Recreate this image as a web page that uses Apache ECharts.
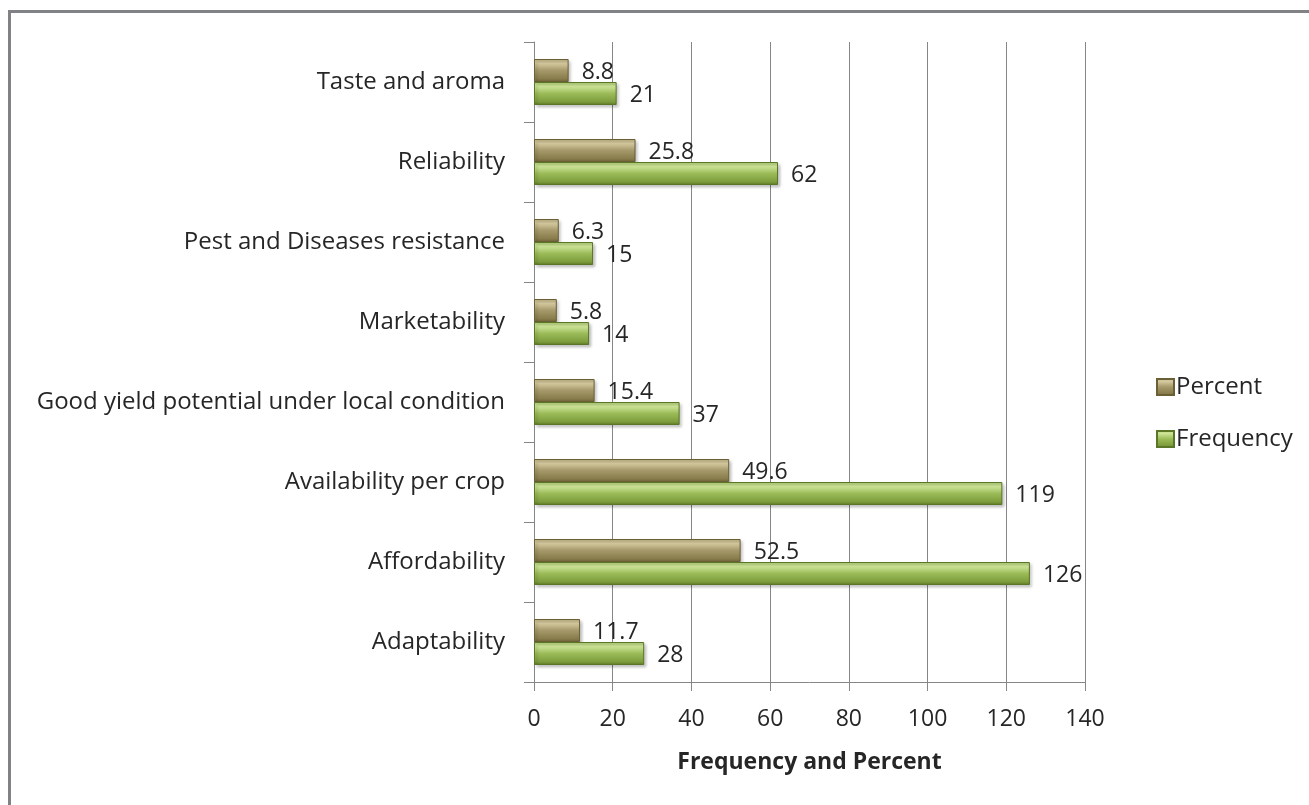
<!DOCTYPE html>
<html>
<head>
<meta charset="utf-8">
<script src="https://cdn.jsdelivr.net/npm/echarts@6/dist/echarts.min.js"></script>
<style>
  html, body { margin: 0; padding: 0; background: #ffffff; overflow: hidden; }
  #frame {
    position: absolute; left: 8px; top: 10px; width: 1400px; height: 900px;
    border-left: 3px solid #808285; border-top: 3px solid #808285;
  }
  #chart { position: absolute; left: 0; top: 0; width: 1309px; height: 805px; }
</style>
</head>
<body>
<div id="frame"></div>
<div id="chart"></div>
<script>
// Categories listed bottom to top (category axis grows upward)
const categories = [
  'Adaptability',
  'Affordability',
  'Availability per crop',
  'Good yield potential under local condition',
  'Marketability',
  'Pest and Diseases resistance',
  'Reliability',
  'Taste and aroma'
];
const percentValues = [11.7, 52.5, 49.6, 15.4, 5.8, 6.3, 25.8, 8.8];
const frequencyValues = [28, 126, 119, 37, 14, 15, 62, 21];
const xTicks = [0, 20, 40, 60, 80, 100, 120, 140];

const FONT = '"Open Sans", Lato, sans-serif';
const TEXT = '#262626';
const AXIS = '#868686';

function bevel(stops) {
  return new echarts.graphic.LinearGradient(0, 0, 0, 1, stops);
}

const percentStyle = {
  color: bevel([
    { offset: 0, color: '#b9ad7e' },
    { offset: 0.18, color: '#d6cba0' },
    { offset: 0.5, color: '#a5986a' },
    { offset: 0.85, color: '#8a7d4c' },
    { offset: 1, color: '#6e6238' }
  ]),
  borderColor: '#6b5f36',
  borderWidth: 1,
  shadowColor: 'rgba(0,0,0,0.25)',
  shadowBlur: 3,
  shadowOffsetX: 2,
  shadowOffsetY: 2
};
const frequencyStyle = {
  color: bevel([
    { offset: 0, color: '#a9c86c' },
    { offset: 0.18, color: '#cfe69a' },
    { offset: 0.5, color: '#9bbb59' },
    { offset: 0.85, color: '#7e9e3e' },
    { offset: 1, color: '#5e7a25' }
  ]),
  borderColor: '#5c7628',
  borderWidth: 1,
  shadowColor: 'rgba(0,0,0,0.25)',
  shadowBlur: 3,
  shadowOffsetX: 2,
  shadowOffsetY: 2
};

const labelStyle = {
  show: true,
  position: 'right',
  distance: 13,
  offset: [0, 2],
  color: TEXT,
  fontFamily: FONT,
  fontSize: 23
};

const chart = echarts.init(document.getElementById('chart'), null, { renderer: 'canvas' });
chart.setOption({
  animation: false,
  backgroundColor: 'transparent',
  grid: { left: 534, top: 42, right: 224, bottom: 123, containLabel: false },
  legend: {
    data: ['Percent', 'Frequency'],
    orient: 'vertical',
    left: 1151,
    top: 370,
    itemWidth: 17,
    itemHeight: 16,
    itemGap: 28,
    icon: 'rect',
    textStyle: { color: TEXT, fontFamily: FONT, fontSize: 24, padding: [0, 0, 0, -3] }
  },
  xAxis: {
    type: 'value',
    min: xTicks[0],
    max: xTicks[xTicks.length - 1],
    interval: xTicks[1] - xTicks[0],
    name: 'Frequency and Percent',
    nameLocation: 'middle',
    nameGap: 69,
    nameTextStyle: { color: TEXT, fontFamily: FONT, fontSize: 23, fontWeight: 'bold' },
    axisLine: { show: true, lineStyle: { color: AXIS, width: 1 } },
    axisTick: { show: true, length: 9, lineStyle: { color: AXIS } },
    axisLabel: { color: TEXT, fontFamily: FONT, fontSize: 23, margin: 26 },
    splitLine: { show: true, lineStyle: { color: AXIS, width: 1 } }
  },
  yAxis: {
    type: 'category',
    data: categories,
    axisLine: { show: true, lineStyle: { color: AXIS, width: 1 } },
    axisTick: { show: true, length: 10, lineStyle: { color: AXIS } },
    axisLabel: { color: TEXT, fontFamily: FONT, fontSize: 24, margin: 29, padding: [4, 0, 0, 0] },
    splitLine: { show: false }
  },
  series: [
    {
      name: 'Percent',
      type: 'bar',
      data: percentValues,
      barGap: '0%',
      barCategoryGap: '42.5%',
      itemStyle: percentStyle,
      label: labelStyle
    },
    {
      name: 'Frequency',
      type: 'bar',
      data: frequencyValues,
      barGap: '0%',
      barCategoryGap: '42.5%',
      itemStyle: frequencyStyle,
      label: labelStyle
    }
  ]
});
</script>
</body>
</html>
